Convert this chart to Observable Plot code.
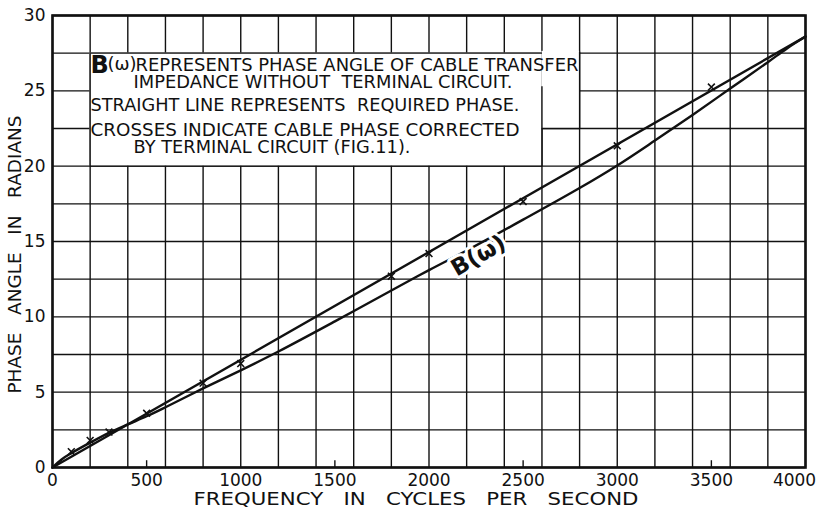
<!DOCTYPE html>
<html>
<head>
<meta charset="utf-8">
<script src="https://cdn.jsdelivr.net/npm/d3@7"></script>
<script src="https://cdn.jsdelivr.net/npm/@observablehq/plot@0.6"></script>
<style>
  body { margin: 0; background: #fff; }
  #chart svg { display: block; }
</style>
</head>
<body>
<div id="chart"></div>
<script>
// Axis tick labels
const xTicks = [0, 500, 1000, 1500, 2000, 2500, 3000, 3500];
const xLastTick = [4000];
const yTicks = [0, 5, 10, 15, 20, 25, 30];
const xStubs = [500, 1500, 2500, 3500];

// Required (linear) phase
const requiredFreq = [0, 4000];
const requiredPhase = [0, 28.6];

// B(ω): phase angle of cable transfer impedance without terminal circuit
const cableFreq = [0, 50, 100, 200, 300, 400, 500, 600, 800, 1000, 1200, 1500, 1800, 2000, 2200, 2500, 2800, 3000, 3200, 3400, 3600, 3800, 3900, 4000];
const cablePhase = [0, 0.55, 0.95, 1.65, 2.3, 2.86, 3.4, 4.0, 5.25, 6.45, 7.7, 9.7, 11.75, 13.1, 14.4, 16.45, 18.55, 20.05, 21.7, 23.4, 25.15, 26.9, 27.8, 28.6];

// Cable phase corrected by terminal circuit
const crossFreq = [100, 200, 300, 500, 800, 1000, 1800, 2000, 2500, 3000, 3500];
const crossPhase = [1.05, 1.8, 2.35, 3.6, 5.6, 6.9, 12.7, 14.2, 17.65, 21.35, 25.25];

// Note lines
const noteLines = [
  "REPRESENTS PHASE ANGLE OF CABLE TRANSFER",
  "IMPEDANCE WITHOUT  TERMINAL CIRCUIT.",
  "STRAIGHT LINE REPRESENTS  REQUIRED PHASE.",
  "CROSSES INDICATE CABLE PHASE CORRECTED",
  "BY TERMINAL CIRCUIT (FIG.11)."
];
const xLabel = "FREQUENCY   IN   CYCLES   PER   SECOND";
const yLabel = "PHASE   ANGLE   IN   RADIANS";

const zip = (xs, ys) => xs.map((x, i) => ({x, y: ys[i]}));
const required = zip(requiredFreq, requiredPhase);
const cable = zip(cableFreq, cablePhase);
const crosses = zip(crossFreq, crossPhase);

const gridX = d3.range(0, 4001, 200);
const gridY = d3.range(0, 30.01, 2.5);

const FONT = "DejaVu Sans";
const ink = "#111";

// layout of each note line: offset from the frame's top-left, and drawn length
const noteLayout = [
  {dx: 83, dy: 43.5, len: 443},
  {dx: 81, dy: 60, len: 379},
  {dx: 38, dy: 83.5, len: 429},
  {dx: 38, dy: 108.5, len: 429},
  {dx: 81, dy: 125, len: 277}
];

const seg = (x1, y1, x2, y2) => ({x1, y1, x2, y2});
const boxEdges = [
  seg(200, 20, 200, 27.5),
  seg(200, 27.5, 2600, 27.5),
  seg(200, 20, 2600, 20),
  seg(2600, 20, 2600, 25.3),
  seg(2600, 22.5, 2800, 22.5),
  seg(2800, 22.5, 2800, 27.6)
];

const plot = Plot.plot({
  width: 819,
  height: 510,
  marginTop: 15,
  marginRight: 14,
  marginBottom: 43,
  marginLeft: 52,
  style: {fontFamily: FONT, fontSize: "17px", color: ink, background: "#fff"},
  x: {domain: [0, 4000]},
  y: {domain: [0, 30]},
  marks: [
    // graph paper
    Plot.ruleX(gridX, {x: d => d, y1: 0, y2: 30, stroke: ink, strokeWidth: 1.4}),
    Plot.ruleY(gridY, {y: d => d, x1: 0, x2: 4000, stroke: ink, strokeWidth: 1.4}),
    // note panel
    Plot.rect([{x1: 200, x2: 2600, y1: 20, y2: 27.5}, {x1: 2600, x2: 2800, y1: 22.5, y2: 27.62}],
      {x1: "x1", x2: "x2", y1: "y1", y2: "y2", fill: "#fff"}),
    Plot.link(boxEdges, {x1: "x1", y1: "y1", x2: "x2", y2: "y2", stroke: ink, strokeWidth: 1.4}),
    // bottom tick stubs
    Plot.ruleX(xStubs, {x: d => d, y1: 0, y2: 0.45, stroke: ink, strokeWidth: 1.4}),
    Plot.frame({stroke: ink, strokeWidth: 2.6}),
    // axes
    Plot.axisX(xTicks, {tickSize: 0, tickPadding: 6, fontSize: 17, tickFormat: d => String(d)}),
    Plot.axisX(xLastTick, {tickSize: 0, tickPadding: 6, fontSize: 17, dx: -11, tickFormat: d => String(d)}),
    Plot.axisY(yTicks, {tickSize: 0, tickPadding: 7, fontSize: 17, tickFormat: d => String(d)}),
    Plot.text([xLabel], {frameAnchor: "bottom", lineAnchor: "bottom", dx: -13, dy: 37, fontSize: 18, fill: ink, className: "x-title"}),
    Plot.text([yLabel], {frameAnchor: "left", textAnchor: "middle", lineAnchor: "middle", dx: -37, dy: 13, rotate: -90,
      fontSize: 17.5, fill: ink, className: "y-title"}),
    // curves
    Plot.line(required, {x: "x", y: "y", stroke: ink, strokeWidth: 2.4}),
    Plot.line(cable, {x: "x", y: "y", stroke: ink, strokeWidth: 2.4, curve: "catmull-rom"}),
    Plot.dot(crosses, {x: "x", y: "y", symbol: "times", r: 3.2, stroke: ink, strokeWidth: 1.6}),
    // curve label
    Plot.text(["B(ω)"], {x: 2263, y: 14.05, text: d => d, rotate: -30, fontSize: 23, fontWeight: 600,
      fill: ink, stroke: "#fff", strokeWidth: 6}),
    // notes
    Plot.text(["B"], {frameAnchor: "top-left", dx: 38, dy: 40, fontSize: 24, fontWeight: "bold", textAnchor: "start", fill: ink}),
    Plot.text(["(ω)"], {frameAnchor: "top-left", dx: 55, dy: 42, fontSize: 18, textAnchor: "start", fill: ink}),
    ...noteLines.map((t, i) => Plot.text([t], {
      frameAnchor: "top-left", dx: noteLayout[i].dx, dy: noteLayout[i].dy,
      textAnchor: "start", fontSize: 17, fill: ink, className: "note-line-" + i
    }))
  ]
});

// stretch the hand-lettered lines to their drawn lengths
const fit = (cls, len) => d3.select(plot).selectAll("." + cls + " text")
  .attr("textLength", len).attr("lengthAdjust", "spacingAndGlyphs");
noteLayout.forEach((l, i) => fit("note-line-" + i, l.len));
fit("x-title", 445);
fit("y-title", 278);

document.getElementById("chart").appendChild(plot);
</script>
</body>
</html>
